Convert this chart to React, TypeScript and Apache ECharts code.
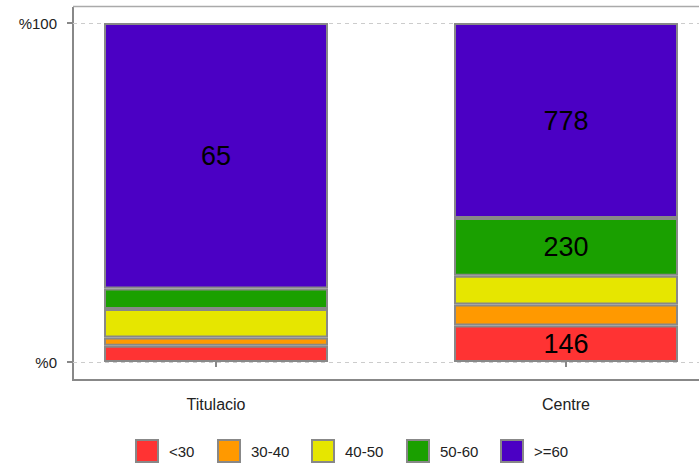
import React, { useEffect, useRef } from "react";
import * as echarts from "echarts";

const categories = ["Titulacio", "Centre"];
const seriesNames = ["<30", "30-40", "40-50", "50-60", ">=60"];
const countsLt30 = [4, 146];
const counts30to40 = [2, 83];
const counts40to50 = [7, 115];
const counts50to60 = [5, 230];
const countsGe60 = [65, 778];
const colors = ["#ff3333", "#ff9900", "#e6e600", "#1aa000", "#4b00c4"];
const yTickLabels = ["%0", "%100"];
const legendLefts = [135, 217, 311, 406, 500];

const FONT = "'Liberation Sans', Arial, sans-serif";

export default function App() {
  const ref = useRef<HTMLDivElement>(null);
  useEffect(() => {
    if (!ref.current) return;
    const chart = echarts.init(ref.current, null, { renderer: "svg" });
    const allCounts = [countsLt30, counts30to40, counts40to50, counts50to60, countsGe60];
    const totals = categories.map((_, i) => allCounts.reduce((s, arr) => s + arr[i], 0));

    const series = allCounts.map((arr, si) => ({
      name: seriesNames[si],
      type: "bar",
      stack: "total",
      xAxisIndex: 1,
      yAxisIndex: 1,
      barWidth: 224,
      itemStyle: { color: colors[si], borderColor: "#888", borderWidth: 2 },
      label: {
        show: true,
        position: "inside",
        color: "#000",
        fontSize: 27,
        fontFamily: FONT,
        formatter: (p: any) => (p.data.pct >= 10 ? String(p.data.count) : ""),
      },
      data: arr.map((c, i) => ({ value: (c / totals[i]) * 100, count: c, pct: (c / totals[i]) * 100 })),
    }));

    const legends = seriesNames.map((n, i) => ({
      data: [n],
      left: legendLefts[i],
      top: 439,
      padding: 0,
      itemWidth: 22,
      itemHeight: 22,
      icon: "rect",
      itemStyle: { borderColor: "#888", borderWidth: 2 },
      textStyle: { color: "#222", fontSize: 15, fontFamily: FONT, padding: [0, 0, 0, 6] },
    }));

    chart.setOption({
      animation: false,
      grid: [
        { left: 73, right: 0, top: 23, bottom: 102, outerBoundsMode: "none" },
        { left: 41, width: 700, top: 23, bottom: 102, outerBoundsMode: "none" },
      ],
      xAxis: [
        {
          gridIndex: 0,
          type: "category",
          data: categories,
          show: false,
        },
        {
          gridIndex: 1,
          type: "category",
          data: categories,
          offset: 18,
          axisLine: { show: false },
          axisTick: { show: true, alignWithLabel: true, length: 5, lineStyle: { color: "#888", width: 2 } },
          axisLabel: { color: "#222", fontSize: 16, fontFamily: FONT, margin: 16 },
        },
      ],
      yAxis: [
        {
          gridIndex: 0,
          type: "value",
          min: 0,
          max: 100,
          interval: 100,
          axisLine: { show: false },
          axisTick: { show: true, length: 6, lineStyle: { color: "#888", width: 2 } },
          axisLabel: {
            color: "#222",
            fontSize: 15,
            fontFamily: FONT,
            margin: 16,
            formatter: (v: number) => (v === 0 ? yTickLabels[0] : yTickLabels[1]),
          },
          splitLine: { show: true, lineStyle: { color: "#ccc", type: [4, 4], width: 1 } },
        },
        { gridIndex: 1, type: "value", min: 0, max: 100, show: false },
      ],
      legend: legends,
      graphic: [
        { type: "line", shape: { x1: 73, y1: 7, x2: 73, y2: 381 }, style: { stroke: "#888", lineWidth: 2 } },
        { type: "line", shape: { x1: 72, y1: 380, x2: 699, y2: 380 }, style: { stroke: "#888", lineWidth: 2 } },
        { type: "line", shape: { x1: 73, y1: 6.5, x2: 699, y2: 6.5 }, style: { stroke: "#aaa", lineWidth: 1.5 } },
      ],
      series,
    });
    return () => chart.dispose();
  }, []);
  return (
    <div
      ref={ref}
      style={{ position: "fixed", left: 0, top: 0, width: 699, height: 464, background: "#fff" }}
    />
  );
}
